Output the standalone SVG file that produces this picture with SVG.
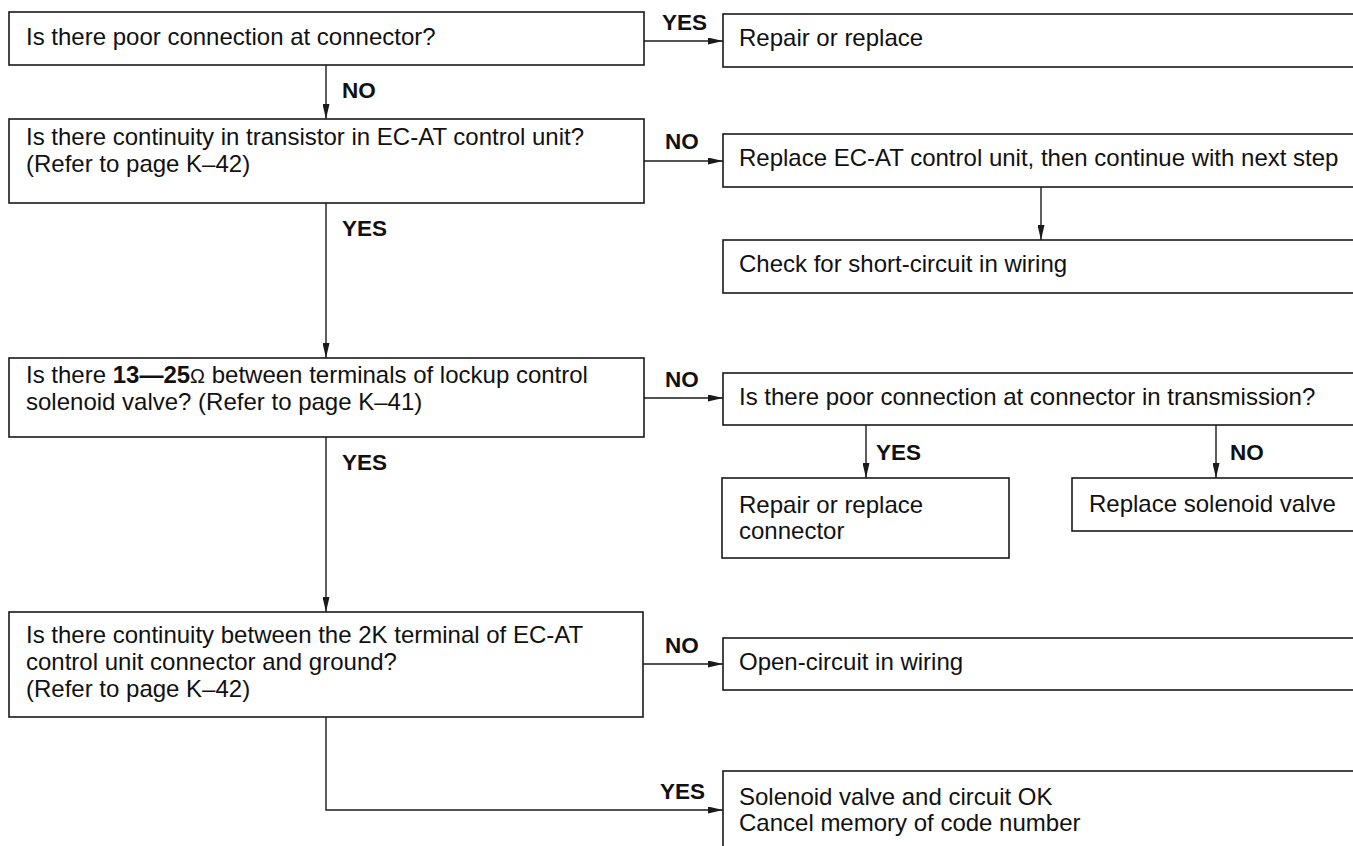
<svg xmlns="http://www.w3.org/2000/svg" width="1353" height="846" viewBox="0 0 1353 846">
<style>
.box{fill:#fff;stroke:#1a1a1a;stroke-width:1.6}
.t{font-family:"Liberation Sans",Arial,sans-serif;font-size:24px;fill:#111}
.lb{font-family:"Liberation Sans",Arial,sans-serif;font-size:22.5px;font-weight:bold;fill:#111}
.c{fill:none;stroke:#1a1a1a;stroke-width:1.4}
</style>
<defs>
<marker id="ah" markerUnits="userSpaceOnUse" markerWidth="16" markerHeight="7" refX="15" refY="3.5" orient="auto">
<path d="M0,0 L15,3.5 L0,7 z" fill="#1a1a1a"/>
</marker>
</defs>
<rect width="1353" height="846" fill="#fff"/>
<g id="connectors">
<path class="c" d="M326,65 V119" marker-end="url(#ah)"/>
<path class="c" d="M644,41 H723" marker-end="url(#ah)"/>
<path class="c" d="M644,161 H723" marker-end="url(#ah)"/>
<path class="c" d="M326,203 V358" marker-end="url(#ah)"/>
<path class="c" d="M1041,187 V240" marker-end="url(#ah)"/>
<path class="c" d="M644,398 H723" marker-end="url(#ah)"/>
<path class="c" d="M866,425 V478" marker-end="url(#ah)"/>
<path class="c" d="M1216,425 V478" marker-end="url(#ah)"/>
<path class="c" d="M326,437 V612" marker-end="url(#ah)"/>
<path class="c" d="M643,664 H723" marker-end="url(#ah)"/>
<path class="c" d="M326,717 V810 H723" marker-end="url(#ah)"/>
<text class="lb" x="662" y="30">YES</text>
<text class="lb" x="342" y="98">NO</text>
<text class="lb" x="665" y="149">NO</text>
<text class="lb" x="342" y="236">YES</text>
<text class="lb" x="665" y="387">NO</text>
<text class="lb" x="876" y="460">YES</text>
<text class="lb" x="1230" y="460">NO</text>
<text class="lb" x="342" y="470">YES</text>
<text class="lb" x="665" y="653">NO</text>
<text class="lb" x="660" y="799">YES</text>
</g>
<g id="n1"><rect class="box" x="9" y="12" width="635" height="53"/><text class="t" x="26" y="45">Is there poor connection at connector?</text></g>
<g id="n2"><rect class="box" x="723" y="14" width="700" height="53"/><text class="t" x="739" y="46">Repair or replace</text></g>
<g id="n3"><rect class="box" x="9" y="119" width="635" height="84"/><text class="t" x="26" y="145">Is there continuity in transistor in EC-AT control unit?</text><text class="t" x="26" y="172">(Refer to page K–42)</text></g>
<g id="n4"><rect class="box" x="723" y="134" width="700" height="53"/><text class="t" x="739" y="166">Replace EC-AT control unit, then continue with next step</text></g>
<g id="n5"><rect class="box" x="723" y="240" width="700" height="53"/><text class="t" x="739" y="272">Check for short-circuit in wiring</text></g>
<g id="n6"><rect class="box" x="9" y="358" width="635" height="79"/><text class="t" x="26" y="383">Is there <tspan font-weight="bold">13—25</tspan><tspan font-size="20px">Ω</tspan> between terminals of lockup control</text><text class="t" x="26" y="410">solenoid valve? (Refer to page K–41)</text></g>
<g id="n7"><rect class="box" x="723" y="373" width="700" height="52"/><text class="t" x="739" y="405">Is there poor connection at connector in transmission?</text></g>
<g id="n8"><rect class="box" x="722" y="478" width="287" height="80"/><text class="t" x="739" y="513">Repair or replace</text><text class="t" x="739" y="539">connector</text></g>
<g id="n9"><rect class="box" x="1072" y="478" width="400" height="53"/><text class="t" x="1089" y="512">Replace solenoid valve</text></g>
<g id="n10"><rect class="box" x="9" y="612" width="634" height="105"/><text class="t" x="26" y="643">Is there continuity between the 2K terminal of EC-AT</text><text class="t" x="26" y="670">control unit connector and ground?</text><text class="t" x="26" y="697">(Refer to page K–42)</text></g>
<g id="n11"><rect class="box" x="723" y="638" width="700" height="52"/><text class="t" x="739" y="670">Open-circuit in wiring</text></g>
<g id="n12"><rect class="box" x="723" y="771" width="700" height="200"/><text class="t" x="739" y="805">Solenoid valve and circuit OK</text><text class="t" x="739" y="831">Cancel memory of code number</text></g>
</svg>
